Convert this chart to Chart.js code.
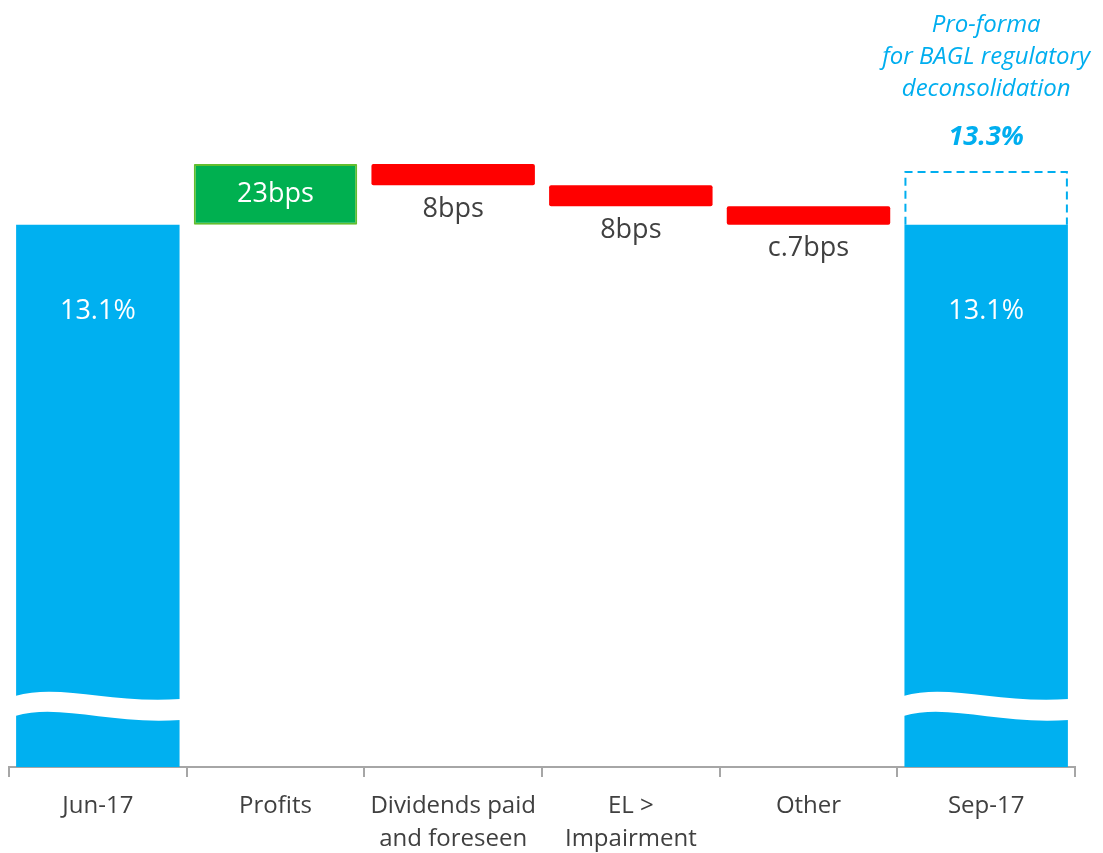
<!DOCTYPE html>
<html>
<head>
<meta charset="utf-8">
<script src="https://cdn.jsdelivr.net/npm/chart.js@4.4.0/dist/chart.umd.min.js"></script>
<style>
  body { margin: 0; background: #fff; }
  #wrap { width: 1103px; height: 853px; }
</style>
</head>
<body>
<div id="wrap"><canvas id="myChart"></canvas></div>
<script>
// axis range (the value axis is hidden and broken near the bottom)
const axisMin = 11.05;
const axisMax = 13.95;

const categories = ['Jun-17', 'Profits', ['Dividends paid', 'and foreseen'], ['EL >', 'Impairment'], 'Other', 'Sep-17'];
// CET1 ratio, % - start and end of each bar in the bridge
const barFrom = [axisMin, 13.10, 13.33, 13.25, 13.17, axisMin];
const barTo = [13.10, 13.33, 13.25, 13.17, 13.10, 13.10];
const barText = ['13.1%', '23bps', '8bps', '8bps', 'c.7bps', '13.1%'];
const proForma = 13.3;
const proFormaText = ['Pro-forma', 'for BAGL regulatory', 'deconsolidation'];

const blue = '#00B0F0';
const cyan = '#00AEEF';

const values = [];
for (i = 0; i < categories.length; i++) {
  values.push([barFrom[i], barTo[i]]);
}

const bridgePlugin = {
  id: 'bridge',
  afterDatasetsDraw(chart) {
    const ctx = chart.ctx;
    const meta = chart.getDatasetMeta(0);
    const yScale = chart.scales.y;
    const b = chart.chartArea.bottom;
    ctx.save();

    // axis break waves on the two full bars
    [0, 5].forEach(function (i) {
      const bar = meta.data[i];
      const x0 = bar.x - bar.width / 2 - 1;
      const w = bar.width + 2;
      ctx.beginPath();
      ctx.moveTo(x0, b - 71);
      ctx.bezierCurveTo(x0 + 0.27 * w, b - 84, x0 + 0.57 * w, b - 63, x0 + w, b - 68);
      ctx.lineTo(x0 + w, b - 47);
      ctx.bezierCurveTo(x0 + 0.57 * w, b - 42, x0 + 0.27 * w, b - 64, x0, b - 51);
      ctx.closePath();
      ctx.fillStyle = '#fff';
      ctx.fill();
    });

    // value labels
    ctx.textAlign = 'center';
    ctx.textBaseline = 'middle';
    ctx.font = '27px "Open Sans"';
    meta.data.forEach(function (bar, i) {
      const top = Math.min(bar.y, bar.base);
      const bottom = Math.max(bar.y, bar.base);
      if (i == 0 || i == 5) {
        ctx.fillStyle = '#fff';
        ctx.fillText(barText[i], bar.x, top + 87);
      } else if (i == 1) {
        ctx.fillStyle = '#fff';
        ctx.fillText(barText[i], bar.x, (top + bottom) / 2);
      } else {
        ctx.fillStyle = '#404040';
        ctx.fillText(barText[i], bar.x, bottom + 24);
      }
    });

    // pro-forma dashed box
    const sep = meta.data[5];
    const pTop = yScale.getPixelForValue(proForma);
    const l = sep.x - sep.width / 2 + 1;
    const r = sep.x + sep.width / 2 - 1;
    ctx.beginPath();
    ctx.setLineDash([8, 5]);
    ctx.lineWidth = 2;
    ctx.strokeStyle = cyan;
    ctx.moveTo(l, sep.y);
    ctx.lineTo(l, pTop);
    ctx.lineTo(r, pTop);
    ctx.lineTo(r, sep.y);
    ctx.stroke();
    ctx.setLineDash([]);

    ctx.fillStyle = cyan;
    ctx.font = 'italic bold 27px "Open Sans"';
    ctx.fillText(proForma.toFixed(1) + '%', sep.x, pTop - 35);
    ctx.font = 'italic 24px "Open Sans"';
    for (j = 0; j < proFormaText.length; j++) {
      ctx.fillText(proFormaText[j], sep.x, pTop - 147 + j * 32);
    }
    ctx.restore();
  }
};

Chart.defaults.font.family = '"Open Sans", sans-serif';

new Chart(document.getElementById('myChart'), {
  type: 'bar',
  data: {
    labels: categories,
    datasets: [{
      data: values,
      backgroundColor: [blue, '#00B050', '#FF0000', '#FF0000', '#FF0000', blue],
      borderColor: [blue, '#62BE2E', '#FF0000', '#FF0000', '#FF0000', blue],
      borderWidth: [0, 2, 0, 0, 0, 0],
      borderSkipped: false,
      borderRadius: [0, 1, 2, 2, 2, 0],
      categoryPercentage: 1,
      barPercentage: 0.92
    }]
  },
  options: {
    responsive: true,
    maintainAspectRatio: false,
    animation: false,
    layout: {
      padding: { left: 9, right: 28, top: 0, bottom: -16 }
    },
    plugins: {
      legend: { display: false },
      tooltip: { enabled: false },
      title: { display: false }
    },
    scales: {
      x: {
        grid: {
          drawOnChartArea: false,
          drawTicks: true,
          tickLength: 10,
          color: '#A6A6A6',
          lineWidth: 2
        },
        border: { color: '#A6A6A6', width: 2 },
        ticks: {
          color: '#404040',
          font: { size: 24, lineHeight: 1.375 },
          padding: 13,
          maxRotation: 0,
          autoSkip: false
        }
      },
      y: {
        display: false,
        min: axisMin,
        max: axisMax
      }
    }
  },
  plugins: [bridgePlugin]
});
</script>
</body>
</html>
